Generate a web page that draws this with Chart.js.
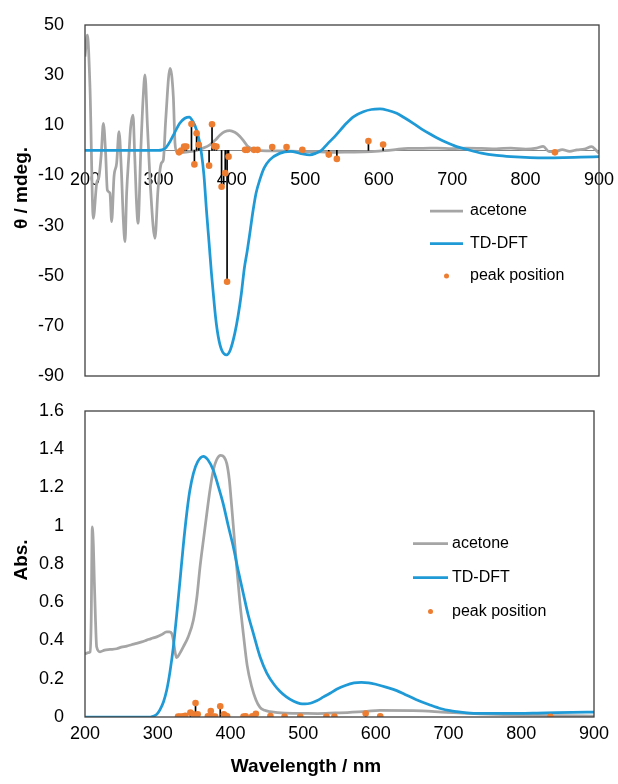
<!DOCTYPE html>
<html>
<head>
<meta charset="utf-8">
<script src="https://cdn.jsdelivr.net/npm/chart.js@4.4.1/dist/chart.umd.min.js"></script>
<style>
  html, body { margin: 0; padding: 0; background: #fff; }
  #wrap { position: relative; width: 618px; height: 784px; }
  canvas { position: absolute; left: 0; }
  #cdChart { top: 0; }
  #absChart { top: 390px; }
</style>
</head>
<body>
<div id="wrap">
  <canvas id="cdChart" width="618" height="390"></canvas>
  <canvas id="absChart" width="618" height="394"></canvas>
</div>
<script>
/* -------------------------------------------------------------
 * DATA (wavelength in nm, [x, y] pairs)
 * ------------------------------------------------------------- */

// CD spectrum, acetone (mdeg)
const cdAcetone = [
	[200, 37.4], [203.2, 46], [206.8, 25], [211.3, -27.1], [215.9, -13.1], [219.1, -10.5],
	[222.2, -1.2], [225, 10.8], [228.1, -1.2], [230.4, -15.8], [234, -17.1], [236.3, -28.4],
	[239.5, -10.5], [243.1, -5.1], [246.3, 7.5], [249.5, -7.8], [252.2, -27.7], [254.5, -36.4],
	[256.7, -17.1], [259.9, -1.2], [262.2, 9.4], [265.4, 14.1], [267.6, -1.2], [270.4, -22.4],
	[272.2, -29.1], [276, 0], [279, 20], [281.7, 30.1], [285, 10], [289.4, -15.8], [295.3, -35.1],
	[299.4, -15.8], [304, -5.1], [306.7, -3.8], [309.9, 12.1], [315.8, 32.7], [320.3, 21.4],
	[322.6, 2.8], [325, -0.5], [330, -0.8], [340, -0.6], [352, 0], [360, 0.8], [370, 2.2],
	[377, 4], [384, 6.1], [390, 7.4], [397, 7.9], [404, 7.2], [411, 5.5], [417, 3.4], [422, 1.5],
	[428, 0.5], [434, 0], [450, -0.2], [480, -0.3], [500, -0.5], [520, -0.6], [540, -0.8],
	[560, -0.7], [580, -0.6], [600, -0.3], [620, 0.2], [640, 0.8], [660, 0.8], [680, 0.9],
	[700, 0.7], [720, 0.9], [740, 0.8], [760, 0.6], [780, 0.9], [800, 0.5], [815, 0.9],
	[824, 1.6], [832, -0.5], [840, -0.5], [850, 0.3], [860, -0.4], [870, 0.2], [880, 0.5],
	[890, 1.5], [895, 0.3], [900, -1.2]
];

// CD spectrum, TD-DFT (mdeg)
const cdTddft = [
	[200, 0], [300, 0], [305, 0.2], [310, 1], [315.8, 3.5], [322, 7], [329, 10.8], [336, 12.8],
	[342, 13.3], [347, 11.5], [352, 8.1], [355.5, 4], [358.6, -1.2], [362, -10], [365.4, -23.8],
	[369, -37], [372.2, -49], [374.7, -57], [378, -67], [381.5, -74.3], [386, -79.5],
	[392.8, -81.6], [398, -79.5], [404, -73], [408.5, -66], [413, -57], [417, -47], [421, -40],
	[425, -32], [429, -23.8], [433, -17], [438, -11.8], [444, -7], [451.6, -3.8], [465, -1.2],
	[480, -0.4], [493, -1.2], [506, -1.8], [514, -1.2], [522, 0], [530, 2.5], [540, 5.5],
	[556, 10.8], [566, 13.5], [579, 15.4], [590, 16.3], [601.7, 16.5], [612, 16], [624.5, 14.8],
	[635, 13], [647, 10.8], [658, 8.6], [670, 6.5], [681, 4.7], [692.5, 3.1], [705, 1.6],
	[719.7, 0.4], [740, -1.1], [760.5, -2], [780, -2.5], [806, -2.9], [830, -3], [852, -2.9],
	[875, -2.7], [900, -2.5]
];

// Absorption spectrum, acetone
const absAcetone = [
	[200, 0.33], [204.5, 0.336], [207, 0.34], [208.5, 0.5], [210, 0.994], [211.5, 0.9],
	[212.8, 0.715], [214.5, 0.5], [216, 0.367], [220.6, 0.341], [227, 0.35], [234.4, 0.353],
	[243.6, 0.357], [250, 0.365], [257.4, 0.371], [264, 0.378], [271, 0.385], [278, 0.393],
	[284.9, 0.402], [291, 0.41], [298.6, 0.419], [305, 0.43], [312.4, 0.445], [316, 0.445],
	[319.2, 0.437], [322, 0.39], [323.8, 0.341], [326, 0.31], [330, 0.33], [335.2, 0.367],
	[342, 0.42], [349, 0.506], [354, 0.63], [358.2, 0.785], [363, 0.93], [367.4, 1.06],
	[372, 1.19], [376.5, 1.29], [381, 1.345], [386.6, 1.368], [391, 1.36], [395, 1.325],
	[398.5, 1.24], [401.8, 1.098], [405, 0.95], [408.6, 0.785], [413, 0.6], [417.7, 0.437],
	[423, 0.27], [429.3, 0.158], [435, 0.09], [440.7, 0.05], [447, 0.035], [454.5, 0.028],
	[475, 0.02], [495.7, 0.019], [520, 0.018], [550, 0.022], [587.5, 0.03], [605.8, 0.034],
	[651.6, 0.033], [697.5, 0.024], [743, 0.016], [800, 0.01], [850, 0.007], [900, 0.005]
];

// Absorption spectrum, TD-DFT
const absTddft = [
	[200, 0], [290, 0], [295, 0.005], [299, 0.015], [303, 0.037], [308, 0.08], [312.4, 0.141],
	[317, 0.24], [321.5, 0.367], [326, 0.53], [330.7, 0.715], [335, 0.89], [339.9, 1.064],
	[344, 1.18], [349, 1.273], [355, 1.335], [362.7, 1.363], [369, 1.345], [376.5, 1.29],
	[383, 1.21], [390, 1.116], [397, 1.0], [404, 0.889], [411, 0.76], [417.7, 0.646],
	[424, 0.54], [431.5, 0.437], [440.7, 0.315], [450, 0.23], [460, 0.17], [468, 0.135],
	[477, 0.105], [487, 0.082], [495.7, 0.07], [502.6, 0.068], [510, 0.072], [518.7, 0.085],
	[528, 0.105], [537, 0.124], [546, 0.145], [558, 0.165], [570, 0.178], [580, 0.181],
	[590, 0.179], [601, 0.17], [615, 0.155], [628.7, 0.138], [640, 0.118], [655, 0.092],
	[674.5, 0.063], [690, 0.043], [702, 0.033], [711, 0.028], [725, 0.022], [743, 0.019],
	[780, 0.019], [834, 0.022], [870, 0.024], [900, 0.026]
];

// Calculated transitions (peak positions)
const peakWl  = [328, 331, 335, 338, 345, 349, 352, 355, 369, 373, 376, 379, 386, 391, 393.5, 395.5,
	418, 421, 430, 435, 455, 474.5, 496, 532, 543, 586, 606, 840];
const peakCd  = [-0.8, -0.1, 1.5, 1.5, 10.5, -5.6, 6.8, 2.2, -6.1, 10.4, 1.7, 1.5, -14.5, -9.1, -52.4, -2.5,
	0.2, 0.2, 0.2, 0.2, 1.3, 1.3, 0.2, -1.7, -3.4, 3.7, 2.3, -0.8];
const peakAbs = [0.003, 0.003, 0.004, 0.006, 0.023, 0.014, 0.073, 0.014, 0.004, 0.031, 0.002, 0.002, 0.056, 0.014, 0.006, 0.004,
	0.003, 0.004, 0.004, 0.017, 0.005, 0.003, 0.002, 0.002, 0.003, 0.018, 0.004, 0.001];

const wlMin = 200, wlMax = 900, wlStep = 100;
const cdMin = -90, cdMax = 50, cdStep = 20;
const absMin = 0, absMax = 1.6, absStep = 0.2;

/* -------------------------------------------------------------
 * STYLE
 * ------------------------------------------------------------- */

const GRAY = '#a5a5a5';
const BLUE = '#1f9ad6';
const ORANGE = '#ed7d31';
const FONT = '"Liberation Sans", Arial, sans-serif';

Chart.defaults.font.family = FONT;
Chart.defaults.font.size = 18;
Chart.defaults.color = '#000';

const toXY = pairs => pairs.map(p => ({ x: p[0], y: p[1] }));
const peaks = vals => peakWl.map((x, i) => ({ x, y: vals[i] }));

// tick paddings should not shrink the plot area
const noPadY = s => { s.width = 85; s.paddingTop = 0; s.paddingBottom = 0; };
const noPadX = s => { s.paddingLeft = 0; s.paddingRight = 0; };

function datasets(acetone, tddft, peakVals) {
	return [
		{
			label: 'peak position', type: 'line', data: peaks(peakVals), order: 0,
			showLine: false, pointRadius: 3.3, pointBackgroundColor: ORANGE, pointBorderWidth: 0
		},
		{
			label: 'sticks', type: 'bar', data: peaks(peakVals), order: 1,
			backgroundColor: '#000', borderWidth: 0, barThickness: 1, grouped: false
		},
		{
			label: 'TD-DFT', type: 'line', data: toXY(tddft), order: 2,
			borderColor: BLUE, borderWidth: 2.75, pointRadius: 0, cubicInterpolationMode: 'monotone'
		},
		{
			label: 'acetone', type: 'line', data: toXY(acetone), order: 3,
			borderColor: GRAY, borderWidth: 2.75, pointRadius: 0, cubicInterpolationMode: 'monotone'
		}
	];
}

/* -------------------------------------------------------------
 * FRAME, TITLES AND LEGEND
 * ------------------------------------------------------------- */

function extrasPlugin(o) {
	return {
		id: 'extras',
		beforeDatasetsDraw(chart) {
			if (!o.zeroLine) return;
			const { ctx, chartArea: a, scales } = chart;
			const py = Math.round(scales.y.getPixelForValue(0)) + 0.5;
			ctx.save();
			ctx.strokeStyle = '#868686';
			ctx.lineWidth = 1;
			ctx.beginPath();
			ctx.moveTo(a.left, py);
			ctx.lineTo(a.right, py);
			ctx.stroke();
			ctx.restore();
		},
		afterDraw(chart) {
			const { ctx, chartArea: a } = chart;
			ctx.save();
			ctx.strokeStyle = '#404040';
			ctx.lineWidth = 1.3;
			ctx.strokeRect(a.left, a.top, a.right - a.left, a.bottom - a.top);

			ctx.fillStyle = '#000';
			ctx.font = 'bold 19px ' + FONT;
			ctx.textAlign = 'center';
			ctx.textBaseline = 'middle';
			ctx.save();
			ctx.translate(o.yTitle[1], o.yTitle[2]);
			ctx.rotate(-Math.PI / 2);
			ctx.fillText(o.yTitle[0], 0, 0);
			ctx.restore();
			if (o.xTitle) ctx.fillText(o.xTitle[0], o.xTitle[1], o.xTitle[2]);

			// legend
			const L = o.legend;
			ctx.font = '16px ' + FONT;
			ctx.textAlign = 'left';
			ctx.lineWidth = 2.75;
			[[GRAY, 'acetone'], [BLUE, 'TD-DFT']].forEach(([c, t], i) => {
				const y = L.y + i * L.gap;
				ctx.strokeStyle = c;
				ctx.beginPath();
				ctx.moveTo(L.x, y);
				ctx.lineTo(L.x + L.w, y);
				ctx.stroke();
				ctx.fillText(t, L.tx, y);
			});
			const yp = L.y + 2 * L.gap;
			ctx.fillStyle = ORANGE;
			ctx.beginPath();
			ctx.arc(L.x + L.w / 2, yp, 2.5, 0, Math.PI * 2);
			ctx.fill();
			ctx.fillStyle = '#000';
			ctx.fillText('peak position', L.tx, yp);
			ctx.restore();
		}
	};
}

/* -------------------------------------------------------------
 * CD CHART
 * ------------------------------------------------------------- */

new Chart(document.getElementById('cdChart'), {
	type: 'line',
	data: { datasets: datasets(cdAcetone, cdTddft, peakCd) },
	options: {
		responsive: false,
		animation: false,
		layout: { padding: { top: 25, right: 19, bottom: 14, left: 0 } },
		plugins: { legend: { display: false }, tooltip: { enabled: false } },
		scales: {
			x: {
				type: 'linear', position: { y: 0 }, offset: false,
				min: wlMin, max: wlMax,
				grid: { display: false, drawTicks: false, offset: false },
				border: { display: false },
				ticks: { stepSize: wlStep, padding: 19, autoSkip: false, maxRotation: 0 },
				afterFit: noPadX
			},
			y: {
				type: 'linear', min: cdMin, max: cdMax,
				grid: { display: false, drawTicks: false },
				border: { display: false },
				ticks: { stepSize: cdStep, padding: 21 },
				afterFit: noPadY
			}
		}
	},
	plugins: [extrasPlugin({
		zeroLine: true,
		yTitle: ['θ / mdeg.', 22, 188],
		legend: { x: 430, w: 33, tx: 470, y: 211, gap: 32.5 }
	})]
});

/* -------------------------------------------------------------
 * ABSORPTION CHART
 * ------------------------------------------------------------- */

new Chart(document.getElementById('absChart'), {
	type: 'line',
	data: { datasets: datasets(absAcetone, absTddft, peakAbs) },
	options: {
		responsive: false,
		animation: false,
		layout: { padding: { top: 21, right: 24, bottom: 0, left: 0 } },
		plugins: { legend: { display: false }, tooltip: { enabled: false } },
		scales: {
			x: {
				type: 'linear', position: 'bottom', offset: false,
				min: wlMin, max: wlMax,
				grid: { display: false, drawTicks: false, offset: false },
				border: { display: false },
				ticks: { stepSize: wlStep, padding: 6, autoSkip: false, maxRotation: 0 },
				afterFit: s => { noPadX(s); s.height = 67; }
			},
			y: {
				type: 'linear', min: absMin, max: absMax,
				grid: { display: false, drawTicks: false },
				border: { display: false },
				ticks: {
					stepSize: absStep, padding: 21,
					callback: v => String(Math.round(v * 10) / 10)
				},
				afterFit: noPadY
			}
		}
	},
	plugins: [extrasPlugin({
		zeroLine: false,
		yTitle: ['Abs.', 22, 170],
		xTitle: ['Wavelength / nm', 306, 377],
		legend: { x: 413, w: 35, tx: 452, y: 153.5, gap: 34 }
	})]
});
</script>
</body>
</html>
